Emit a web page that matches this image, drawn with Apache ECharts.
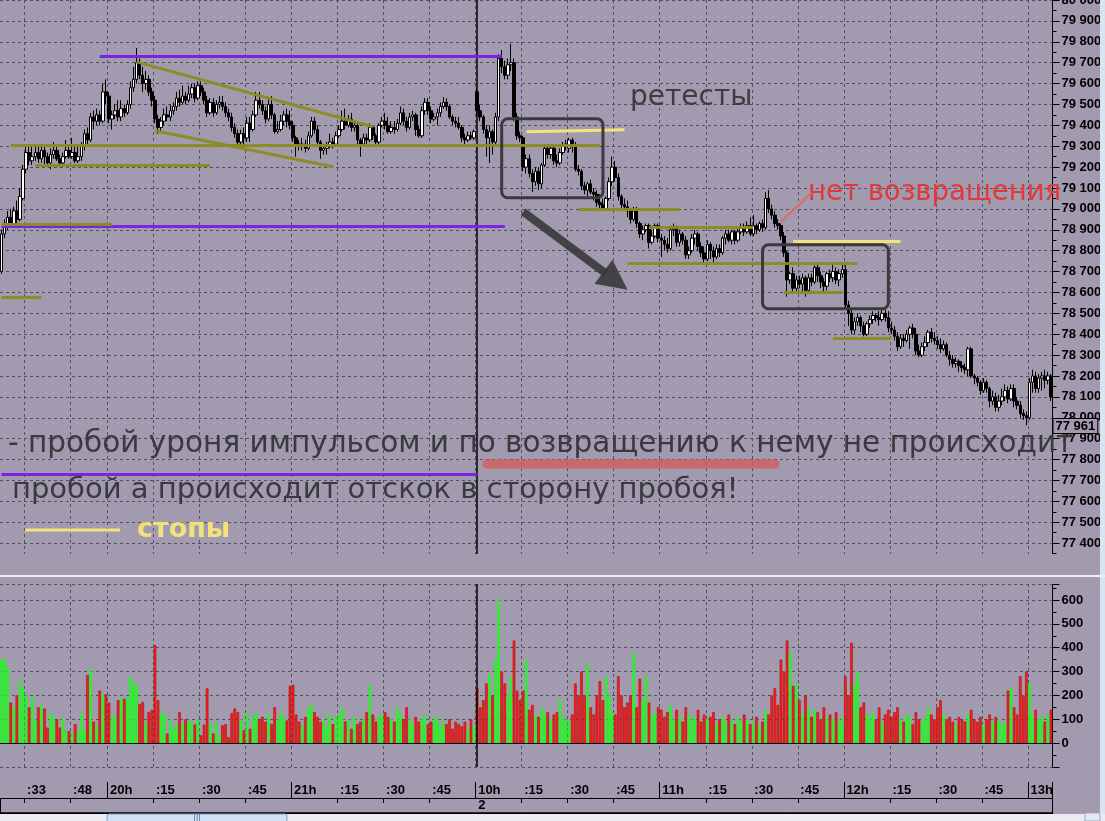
<!DOCTYPE html>
<html><head><meta charset="utf-8">
<script src="https://cdn.jsdelivr.net/npm/echarts@6/dist/echarts.min.js"></script>
<style>html,body{margin:0;padding:0;background:#a29aae;}#c{width:1105px;height:821px;}</style>
</head><body><div id="c"></div><script>
// ---- session minute ranges ----
const day1Start = [19, 25], day1Count = 155;
const day2Start = [10, 0], day2Count = 188;

// ---- candles [open, close, low, high] ----
const day1Candles = [
[78700,78880,78690,78900],[78880,78920,78860,78950],[78920,78960,78900,78990],[78960,78930,78910,79000],[78930,78990,78920,79010],
[78990,78950,78930,79040],[78950,79060,78940,79100],[79050,79190,79040,79210],[79190,79270,79170,79300],[79270,79230,79210,79300],
[79230,79250,79210,79300],[79250,79270,79230,79310],[79270,79240,79220,79300],[79240,79280,79220,79310],[79280,79250,79210,79300],
[79250,79220,79200,79270],[79220,79260,79190,79290],[79260,79280,79240,79320],[79280,79240,79230,79300],[79240,79220,79200,79260],
[79220,79250,79200,79270],[79250,79280,79240,79330],[79280,79250,79240,79300],[79250,79270,79240,79340],[79270,79230,79220,79300],
[79230,79250,79220,79310],[79250,79300,79230,79320],[79300,79360,79280,79380],[79360,79330,79310,79390],[79330,79440,79320,79460],
[79440,79420,79380,79470],[79420,79450,79400,79480],[79450,79420,79400,79470],[79420,79560,79410,79600],[79560,79540,79500,79620],
[79540,79430,79410,79560],[79430,79450,79380,79470],[79450,79470,79430,79500],[79470,79440,79420,79520],[79440,79480,79420,79520],
[79480,79460,79440,79500],[79460,79500,79450,79520],[79500,79580,79480,79610],[79580,79620,79560,79680],[79620,79700,79600,79770],
[79700,79640,79620,79720],[79640,79600,79560,79680],[79600,79620,79570,79660],[79620,79560,79540,79640],[79560,79520,79490,79580],
[79520,79430,79410,79540],[79430,79390,79360,79450],[79390,79420,79370,79440],[79420,79450,79400,79480],[79450,79440,79420,79490],
[79440,79470,79420,79500],[79470,79490,79450,79510],[79490,79530,79470,79560],[79530,79510,79490,79570],[79510,79540,79500,79590],
[79540,79520,79500,79560],[79520,79550,79510,79590],[79550,79580,79530,79600],[79580,79530,79510,79600],[79530,79590,79520,79610],
[79590,79560,79540,79610],[79560,79520,79500,79580],[79520,79460,79440,79540],[79460,79510,79450,79530],[79510,79460,79440,79530],
[79460,79500,79450,79520],[79500,79510,79480,79540],[79510,79490,79470,79540],[79490,79460,79440,79510],[79460,79440,79420,79480],
[79440,79390,79370,79460],[79390,79360,79340,79410],[79360,79320,79300,79380],[79320,79360,79300,79380],[79360,79340,79300,79390],
[79340,79410,79320,79440],[79410,79380,79320,79440],[79380,79450,79370,79470],[79450,79520,79440,79560],[79520,79500,79480,79560],
[79500,79470,79450,79520],[79470,79430,79410,79490],[79430,79500,79420,79530],[79500,79450,79430,79540],[79450,79370,79360,79460],
[79370,79380,79360,79420],[79380,79420,79370,79450],[79420,79450,79400,79470],[79450,79420,79390,79480],[79420,79400,79380,79470],
[79400,79340,79320,79420],[79340,79310,79250,79350],[79310,79300,79280,79330],[79300,79310,79280,79340],[79310,79290,79270,79330],
[79290,79350,79280,79370],[79350,79420,79340,79440],[79420,79380,79360,79440],[79380,79320,79300,79400],[79320,79280,79240,79330],
[79280,79290,79260,79310],[79290,79300,79260,79320],[79300,79320,79290,79360],[79320,79310,79290,79340],[79310,79350,79300,79370],
[79350,79380,79340,79400],[79380,79420,79370,79470],[79420,79400,79380,79480],[79400,79430,79390,79450],[79430,79390,79370,79460],
[79390,79400,79370,79420],[79400,79330,79310,79410],[79330,79310,79250,79340],[79310,79340,79300,79360],[79340,79330,79310,79360],
[79330,79390,79320,79410],[79390,79350,79330,79400],[79350,79320,79300,79360],[79320,79400,79300,79410],[79400,79420,79390,79440],
[79420,79400,79380,79460],[79400,79370,79360,79440],[79370,79390,79360,79420],[79390,79380,79360,79420],[79380,79410,79370,79430],
[79410,79460,79400,79490],[79460,79420,79400,79480],[79420,79390,79370,79440],[79390,79440,79380,79460],[79440,79450,79420,79470],
[79450,79380,79350,79460],[79380,79350,79340,79400],[79350,79470,79340,79490],[79470,79510,79450,79530],[79510,79470,79450,79530],
[79470,79430,79410,79490],[79430,79440,79420,79460],[79440,79460,79400,79480],[79460,79490,79440,79510],[79490,79510,79480,79535],
[79510,79490,79470,79530],[79490,79440,79430,79500],[79440,79420,79400,79450],[79420,79410,79390,79440],[79410,79390,79380,79440],
[79390,79340,79320,79400],[79340,79330,79300,79360],[79330,79350,79320,79370],[79350,79340,79330,79370],[79340,79370,79330,79380]
];
const day2Candles = [
[79560,79470,79450,79580],[79470,79440,79420,79500],[79440,79380,79360,79450],[79380,79340,79250,79400],[79340,79370,79220,79400],
[79370,79320,79260,79380],[79320,79440,79300,79460],[79440,79720,79420,79740],[79720,79680,79650,79760],[79680,79640,79620,79710],
[79640,79690,79620,79720],[79690,79700,79660,79790],[79700,79440,79420,79720],[79440,79350,79330,79460],[79350,79340,79320,79370],
[79340,79200,79180,79350],[79200,79240,79170,79260],[79240,79170,79150,79260],[79170,79130,79080,79190],[79130,79180,79110,79200],
[79180,79120,79090,79200],[79120,79210,79100,79220],[79210,79290,79200,79310],[79290,79260,79240,79300],[79260,79290,79240,79310],
[79290,79230,79210,79300],[79230,79220,79200,79260],[79220,79270,79210,79290],[79270,79300,79260,79320],[79300,79310,79280,79330],
[79290,79330,79270,79340],[79330,79300,79270,79340],[79300,79190,79180,79320],[79190,79180,79160,79210],[79180,79110,79090,79190],
[79110,79090,79070,79130],[79090,79120,79060,79130],[79120,79080,79070,79140],[79080,79070,79040,79100],[79070,79030,79010,79090],
[79030,79020,79000,79070],[79020,79000,78990,79050],[79000,79050,78990,79060],[79050,79130,79040,79150],[79130,79200,79110,79250],
[79200,79150,79130,79230],[79150,79060,79040,79170],[79060,79020,79000,79070],[79020,79010,78990,79050],[79010,78990,78960,79040],
[78990,78950,78930,79000],[78950,78990,78940,79010],[78990,78930,78910,79010],[78930,78880,78860,78940],[78880,78900,78850,78920],
[78900,78920,78890,78930],[78920,78840,78810,78930],[78840,78870,78830,78900],[78870,78920,78860,78930],[78920,78860,78840,78930],
[78860,78850,78770,78880],[78850,78830,78800,78870],[78830,78810,78790,78860],[78810,78900,78800,78920],[78900,78910,78870,78930],
[78910,78840,78820,78920],[78840,78880,78820,78900],[78880,78850,78830,78890],[78850,78780,78760,78870],[78780,78800,78760,78820],
[78800,78860,78790,78880],[78860,78880,78830,78900],[78880,78820,78800,78890],[78820,78790,78770,78840],[78790,78760,78740,78820],
[78760,78830,78750,78850],[78830,78800,78760,78840],[78800,78770,78740,78820],[78770,78810,78760,78830],[78810,78790,78770,78830],
[78790,78860,78780,78870],[78860,78880,78830,78900],[78880,78850,78840,78900],[78850,78890,78830,78900],[78890,78850,78830,78900],
[78850,78890,78840,78910],[78890,78910,78880,78930],[78910,78890,78870,78930],[78890,78920,78880,78940],[78920,78880,78870,78960],
[78880,78920,78870,78970],[78920,78900,78880,78930],[78900,78930,78890,78940],[78930,78910,78890,78950],[78910,79050,78900,79080],
[79050,79000,78980,79090],[79000,78970,78950,79020],[78970,78930,78910,78990],[78930,78920,78900,78950],[78920,78870,78850,78930],
[78870,78790,78770,78890],[78790,78660,78580,78800],[78660,78690,78640,78700],[78690,78620,78600,78720],[78620,78660,78600,78680],
[78660,78640,78620,78680],[78640,78670,78600,78690],[78670,78610,78580,78680],[78610,78670,78600,78690],[78670,78650,78630,78690],
[78650,78720,78640,78730],[78720,78680,78650,78740],[78680,78650,78620,78700],[78650,78630,78600,78670],[78630,78690,78610,78700],
[78690,78670,78650,78710],[78670,78700,78650,78740],[78700,78660,78640,78720],[78660,78690,78630,78710],[78690,78710,78670,78740],
[78710,78540,78520,78730],[78540,78500,78440,78560],[78500,78420,78400,78520],[78420,78460,78400,78480],[78460,78480,78440,78500],
[78480,78440,78410,78490],[78440,78400,78390,78460],[78400,78450,78390,78460],[78450,78470,78430,78490],[78470,78490,78450,78510],
[78490,78480,78460,78500],[78480,78470,78440,78510],[78470,78500,78460,78520],[78500,78480,78460,78520],[78480,78430,78410,78510],
[78430,78420,78400,78460],[78420,78390,78370,78440],[78390,78340,78320,78410],[78340,78380,78330,78400],[78380,78370,78340,78400],
[78370,78400,78360,78420],[78400,78430,78330,78440],[78430,78400,78380,78450],[78400,78320,78300,78430],[78320,78300,78290,78350],
[78300,78340,78290,78360],[78340,78360,78320,78390],[78360,78410,78340,78420],[78410,78380,78360,78430],[78380,78370,78350,78410],
[78370,78350,78330,78390],[78350,78330,78310,78380],[78330,78350,78320,78370],[78350,78300,78290,78360],[78300,78280,78250,78320],
[78280,78260,78240,78300],[78260,78270,78240,78290],[78270,78250,78220,78280],[78250,78240,78220,78270],[78240,78230,78210,78260],
[78230,78330,78200,78340],[78330,78200,78190,78340],[78200,78190,78160,78210],[78190,78170,78150,78200],[78170,78130,78110,78180],
[78130,78170,78120,78190],[78170,78140,78120,78180],[78140,78080,78050,78150],[78080,78100,78060,78130],[78100,78050,78030,78120],
[78050,78080,78030,78110],[78080,78100,78060,78140],[78100,78130,78080,78160],[78130,78090,78070,78150],[78090,78140,78080,78160],
[78140,78080,78050,78160],[78080,78060,78040,78100],[78060,78020,78000,78080],[78020,78010,77990,78040],[78010,78000,77965,78030],
[78000,78170,77990,78190],[78170,78200,78120,78230],[78200,78140,78120,78220],[78140,78190,78120,78210],[78190,78200,78130,78220],
[78200,78180,78140,78230],[78180,78200,78160,78220],[78200,78100,78080,78210]
];

// ---- volumes ----
const day1Volume = [
350,355,320,170,155,200,260,230,200,150, 195,95,150,160,145,65,125,110,100,65,
105,55,50,40,80,55,125,55,285,310, 90,75,220,205,205,170,110,118,180,190,
185,190,280,255,240,163,172,90,130,140, 410,180,126,125,40,100,64,82,130,82,
100,95,90,78,100,33,78,230,82,40, 90,33,75,80,25,126,145,130,100,53,
130,60,110,130,100,110,90,120,80,150, 100,130,110,95,240,245,120,90,80,110,
150,160,130,110,90,100,70,120,80,110, 120,150,90,100,60,110,80,90,100,130,
245,120,90,110,120,130,110,100,90,150, 120,100,150,100,80,110,90,100,120,80,
90,100,110,70,90,80,100,60,90,80, 70,90,60,100,80
];
const day2Volume = [
230,150,180,250,290,200,350,600,300,250, 200,280,430,220,180,220,350,140,160,120,
110,150,120,130,100,120,130,180,110,100, 90,120,250,200,300,200,330,150,120,200,
260,180,280,200,130,120,280,200,150,170, 200,380,150,270,180,280,170,120,130,150,
140,110,130,160,100,140,110,90,150,120, 100,110,140,90,120,100,110,130,80,100,
110,90,120,100,80,110,90,120,100,80, 90,110,70,90,140,120,200,230,160,350,
300,430,380,240,250,180,120,200,150,110, 140,130,100,150,110,120,100,130,90,110,
280,200,420,250,300,150,170,120,110,130, 100,150,90,120,140,110,130,150,100,90,
120,110,80,130,100,90,110,150,120,100, 150,180,120,100,110,90,80,110,100,90,
120,140,100,90,110,80,100,120,90,110, 100,80,90,220,230,150,120,280,200,300,
250,120,140,100,110,90,120,140
];

// ---- time axis ticks ----
const tickTimes = ['19:33','19:48','20:00','20:15','20:30','20:45','21:00','21:15','21:30','21:45',
  '10:00','10:15','10:30','10:45','11:00','11:15','11:30','11:45','12:00','12:15','12:30','12:45','13:00'];
const tickNames = [':33',':48','20h',':15',':30',':45','21h',':15',':30',':45',
  '10h',':15',':30',':45','11h',':15',':30',':45','12h',':15',':30',':45','13h'];
const hourTimes = ['20:00','21:00','10:00','11:00','12:00','13:00'];
const sessionBreak = '10:00';
const dateLabel = '2';
const lastPrice = 77961;

// ---- drawn annotations, in data coordinates [i1, p1, i2, p2] ----
const purpleLevels = [[32,79733,163,79733],[0,78916,164,78916],[0,77732,155,77732]];
const oliveLevels = [[0,78575,13,78575],[0,78927,36,78927],[3,79307,195,79307],[11,79211,68,79211],
  [44,79704,121,79393],[50,79374,108,79202],[188,78996,221,78996],[211,78914,245,78914],
  [204,78742,279,78742],[255,78600,274,78600],[271,78383,290,78383]];
const stopLevels = [[171,79369,203,79379],[258,78847,293,78847]];
const boxes = [[163,79431,196,79053],[248,78828,289,78522]];
const arrowPts = [[170,78986],[204,78613]];
const pointerPts = [[254,78938],[264,79077]];

// ---- build ----
function pad(n){return (n<10?'0':'')+n;}
function minutes(start,count){const out=[];let h=start[0],m=start[1];for(let k=0;k<count;k++){out.push(h+':'+pad(m));m++;if(m===60){m=0;h++;}}return out;}
const categories = minutes(day1Start,day1Count).concat(minutes(day2Start,day2Count));
const candles = day1Candles.concat(day2Candles);
const volumes = day1Volume.concat(day2Volume);
const tickSet = new Set(tickTimes), hourSet = new Set(hourTimes);
const tickName = {}; tickTimes.forEach((t,k)=>tickName[t]=tickNames[k]);
const fmt = v => { const s=String(v); return s.slice(0,-3)+' '+s.slice(-3); };

const BG = '#a29aae';
const dash = {color:'#55505f', width:1, type:[3,3]};
const axisFont = {color:'#000', fontWeight:'bold', fontSize:13, fontFamily:'Liberation Sans'};
const seg = (list,color,width,opacity)=>list.map(s=>[{coord:[s[0],s[1]],lineStyle:{color,width,opacity,type:'solid'}},{coord:[s[2],s[3]]}]);

const chart = echarts.init(document.getElementById('c'), null, {renderer:'canvas'});
const option = {
  animation:false,
  backgroundColor:BG,
  grid:[
    {left:0,right:52.5,top:0,height:564,outerBoundsMode:'none'},
    {left:0,right:52.5,top:584,height:183,outerBoundsMode:'none'},
    {left:0,right:52.5,top:782,height:16,outerBoundsMode:'none'},
    {left:0,right:52.5,top:798,height:15,outerBoundsMode:'none'}
  ],
  xAxis:[
    {gridIndex:0,type:'category',data:categories,boundaryGap:true,axisLine:{show:false},axisTick:{show:false},axisLabel:{show:false},
      splitLine:{show:true,interval:(i,v)=>tickSet.has(v),lineStyle:dash}},
    {gridIndex:1,type:'category',data:categories,boundaryGap:true,position:'top',axisLine:{show:true,lineStyle:{color:'#000',width:1}},
      axisTick:{show:false},axisLabel:{show:false},splitLine:{show:true,interval:(i,v)=>tickSet.has(v),lineStyle:dash}},
    {gridIndex:2,type:'category',data:categories,boundaryGap:true,position:'top',axisLine:{show:true,lineStyle:{color:'#000',width:1}},
      axisTick:{show:true,inside:true,length:5,interval:(i,v)=>tickSet.has(v)&&!hourSet.has(v),lineStyle:{color:'#000'}},
      axisLabel:Object.assign({show:true,inside:true,interval:(i,v)=>tickSet.has(v),formatter:v=>tickName[v]||'',align:'left',margin:2,padding:[0,0,0,1]},axisFont),
      splitLine:{show:true,interval:(i,v)=>hourSet.has(v),lineStyle:{color:'#000',width:1,type:'solid'}}},
    {gridIndex:3,type:'category',data:categories,boundaryGap:true,position:'top',axisLine:{show:true,lineStyle:{color:'#000',width:1}},
      axisTick:{show:false},
      axisLabel:Object.assign({show:true,inside:true,interval:(i,v)=>v===sessionBreak,formatter:()=>dateLabel,align:'left',margin:1,padding:[0,0,0,1]},axisFont),
      splitLine:{show:true,interval:(i,v)=>v===sessionBreak,lineStyle:{color:'#000',width:1,type:'solid'}}},
    {gridIndex:3,type:'category',data:categories,boundaryGap:true,position:'bottom',axisLine:{show:true,lineStyle:{color:'#000',width:1.5}},
      axisTick:{show:false},axisLabel:{show:false},splitLine:{show:false}}
  ],
  yAxis:[
    {gridIndex:0,type:'value',position:'right',min:77300,max:80000,interval:100,scale:true,
      axisLine:{show:true,lineStyle:{color:'#000',width:1}},
      axisTick:{show:true,length:7,lineStyle:{color:'#000'}},
      minorTick:{show:true,splitNumber:2,length:4,lineStyle:{color:'#000'}},
      axisLabel:Object.assign({show:true,margin:9,formatter:v=>v<=77300?'':fmt(v)},axisFont),
      splitLine:{show:true,lineStyle:dash}},
    {gridIndex:1,type:'value',position:'right',min:-100,max:667,interval:100,
      axisLine:{show:true,lineStyle:{color:'#000',width:1}},
      axisTick:{show:true,length:7,lineStyle:{color:'#000'}},
      minorTick:{show:true,splitNumber:2,length:4,lineStyle:{color:'#000'}},
      axisLabel:Object.assign({show:true,margin:9,formatter:v=>(v>=0&&v<=600)?String(v):''},axisFont),
      splitLine:{show:true,lineStyle:dash}},
    {gridIndex:2,type:'value',show:false},
    {gridIndex:3,type:'value',show:false}
  ],
  series:[
    {type:'candlestick',xAxisIndex:0,yAxisIndex:0,data:candles,barWidth:3,z:3,
      itemStyle:{color:'#ffffff',color0:'#000000',borderColor:'#000000',borderColor0:'#000000',borderWidth:1},
      markLine:{silent:true,symbol:['none','none'],animation:false,label:{show:false},
        data:[
          {xAxis:sessionBreak,lineStyle:{color:'#000',width:1.5,type:'solid'}},
          ...seg(purpleLevels,'#7c22e4',3,1),
          ...seg(oliveLevels,'#8c8c1e',3,0.95),
          ...seg(stopLevels,'#f3e27c',3,1),
          {yAxis:lastPrice,lineStyle:{color:'rgba(0,0,0,0)',width:0,opacity:1},
            label:{show:true,position:'end',distance:1,formatter:fmt(lastPrice),color:'#000',fontWeight:'bold',fontSize:13,
              fontFamily:'Liberation Sans',borderColor:'#000',borderWidth:1,padding:[1,2,0,2],backgroundColor:BG,opacity:1}}
        ]}},
    {type:'bar',xAxisIndex:1,yAxisIndex:1,barWidth:2.6,z:3,
      data:volumes.map((v,i)=>{const up=candles[i][1]>=candles[i][0];
        return {value:v,itemStyle:up?{color:'#2cf02c'}:{color:'#ff1c1c',borderColor:'#a81010',borderWidth:0.6}};}),
      markLine:{silent:true,symbol:['none','none'],animation:false,label:{show:false},
        data:[{xAxis:sessionBreak,lineStyle:{color:'#000',width:1.5,type:'solid'}}]}}
  ]
};
chart.setOption(option);

const P = (i,p)=>chart.convertToPixel({xAxisIndex:0,yAxisIndex:0},[i,p]);
const g = [];
// cover band between panels
g.push({type:'rect',shape:{x:0,y:554,width:1105,height:30},style:{fill:BG},z:100});
g.push({type:'rect',shape:{x:0,y:575,width:1105,height:2},style:{fill:'#eeedf3'},z:101});
// boxes
boxes.forEach(b=>{const a=P(b[0],b[1]),c=P(b[2],b[3]);
  g.push({type:'rect',shape:{x:a[0],y:a[1],width:c[0]-a[0],height:c[1]-a[1],r:6},style:{fill:'none',stroke:'#3a3a3e',lineWidth:3},z:20});});
// arrow
(function(){const A=P(arrowPts[0][0],arrowPts[0][1]),B=P(arrowPts[1][0],arrowPts[1][1]);
  const dx=B[0]-A[0],dy=B[1]-A[1],L=Math.hypot(dx,dy),ux=dx/L,uy=dy/L,nx=-uy,ny=ux,hl=30,hw=15;
  const bx=B[0]-ux*hl,by=B[1]-uy*hl;
  g.push({type:'line',shape:{x1:A[0],y1:A[1],x2:bx+ux*3,y2:by+uy*3},style:{stroke:'#38383c',lineWidth:8,opacity:0.9},z:20});
  g.push({type:'polygon',shape:{points:[[B[0],B[1]],[bx+nx*hw,by+ny*hw],[bx-nx*hw,by-ny*hw]]},style:{fill:'#38383c',opacity:0.9},z:20});
})();
// red pointer
(function(){const A=P(pointerPts[0][0],pointerPts[0][1]),B=P(pointerPts[1][0],pointerPts[1][1]);
  g.push({type:'line',shape:{x1:A[0],y1:A[1],x2:B[0],y2:B[1]},style:{stroke:'#e06a6a',lineWidth:2},z:20});})();
// texts
const txt=(x,y,t,font,fill)=>({type:'text',x,y,style:{text:t,font,fill,align:'left',verticalAlign:'middle'},z:15});
g.push(txt(630,98,'ретесты','28px "DejaVu Sans"','#3d3d40'));
g.push(txt(808,193,'нет возвращения','27.5px "DejaVu Sans"','#e23a3a'));
g.push({type:'line',shape:{x1:487,y1:464,x2:775,y2:464},style:{stroke:'rgba(214,92,92,0.8)',lineWidth:9,lineCap:'round'},z:14});
g.push(txt(8,444,'- пробой уроня импульсом и по возвращению к нему не происходит','29.5px "DejaVu Sans"','#3a3a3e'));
g.push(txt(12,490,'пробой а происходит отскок в сторону пробоя!','29px "DejaVu Sans"','#3a3a3e'));
g.push({type:'line',shape:{x1:25,y1:530,x2:120,y2:530},style:{stroke:'#f3e27c',lineWidth:3},z:15});
g.push(txt(137,530,'стопы','bold 27px "DejaVu Sans"','#f3e27c'));
// window chrome: right strip and scrollbar
g.push({type:'rect',shape:{x:1100,y:0,width:5,height:821},style:{fill:'#d9e4f1'},z:100});
g.push({type:'rect',shape:{x:0,y:814,width:1105,height:7},style:{fill:'#ecebf1'},z:100});
g.push({type:'rect',shape:{x:107,y:814,width:180,height:8,r:2},style:{fill:'#cfe2f6',stroke:'#7fa2c8',lineWidth:1},z:101});
g.push({type:'text',x:197,y:818,style:{text:'|||',font:'8px "DejaVu Sans"',fill:'#4a6a90',align:'center',verticalAlign:'middle'},z:102});
g.push({type:'rect',shape:{x:1085,y:813,width:15,height:8},style:{fill:'#e4e9f2',stroke:'#9aaac0',lineWidth:1},z:101});
chart.setOption({graphic:g});
</script></body></html>
